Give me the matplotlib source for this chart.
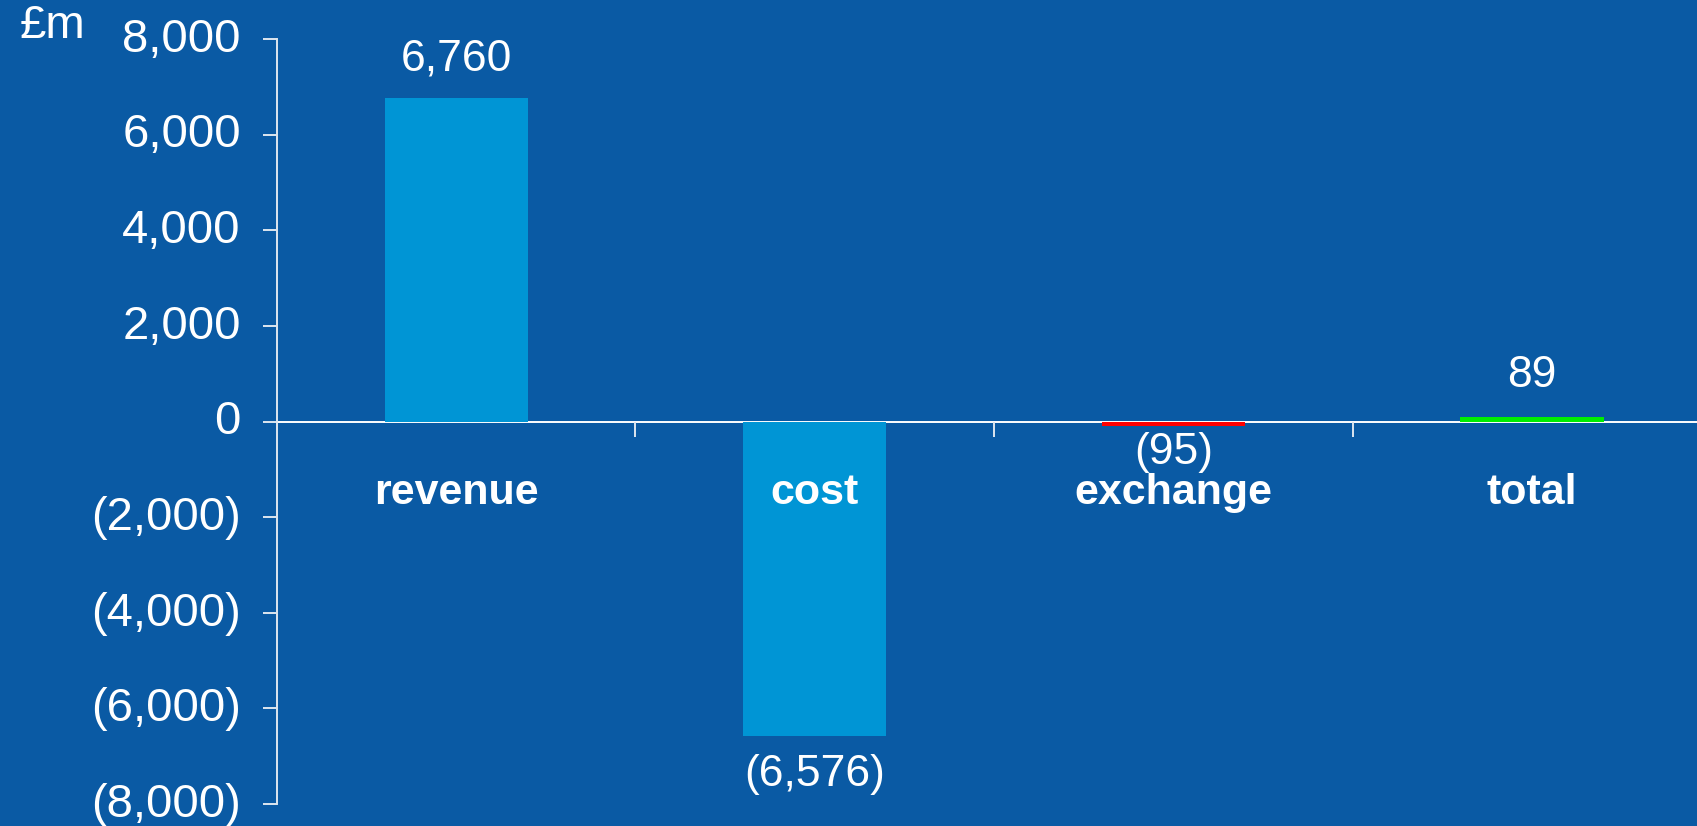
import numpy as np
import matplotlib
matplotlib.use("Agg")
import matplotlib.pyplot as plt
from matplotlib.ticker import FuncFormatter
from matplotlib.transforms import ScaledTranslation

# data
categories = ["revenue", "cost", "exchange", "total"]
values = [6760, -6576, -95, 89]
bar_colors = ["#0095d5", "#0095d5", "#ff0000", "#00ee00"]
label_offsets = [28, -28, -19, 30]   # points, from bar end
yticks = [-8000, -6000, -4000, -2000, 0, 2000, 4000, 6000, 8000]

bg = "#0a5aa4"
fg = "white"
plt.rcParams['font.family'] = ['Liberation Sans', 'DejaVu Sans']

fig = plt.figure(figsize=(16.97, 8.26), dpi=100, facecolor=bg)
ax = fig.add_axes([0.1632, 0.0266, 0.8451, 0.9262], facecolor=bg)

x = np.arange(len(categories))
ax.bar(x, values, width=0.40, color=bar_colors, zorder=1)

ax.set_xlim(-0.5, len(categories) - 0.5)
ax.set_ylim(-8000, 8000)

# spines
for s in ["top", "right"]:
    ax.spines[s].set_visible(False)
ax.spines["bottom"].set_position(("data", 0))
ax.spines["bottom"].set_color(fg)
ax.spines["bottom"].set_linewidth(1.4)
ax.spines["bottom"].set_zorder(0.5)
ax.spines["left"].set_color("#dde6f0")
ax.spines["left"].set_linewidth(1.4)

# y ticks
ax.set_yticks(yticks)
ax.yaxis.set_major_formatter(FuncFormatter(
    lambda v, p: f"{v:,.0f}" if v >= 0 else f"({-v:,.0f})"))
ax.tick_params(axis="y", colors="#dde6f0", length=10, width=1.4, pad=16,
               labelsize=34, labelcolor=fg)
shift = ScaledTranslation(0, 3 / 72, fig.dpi_scale_trans)
for lab in ax.get_yticklabels():
    lab.set_transform(lab.get_transform() + shift)

# x ticks at category boundaries
ax.set_xticks(x[:-1] + 0.5)
ax.set_xticklabels([])
ax.tick_params(axis="x", colors="#dde6f0", length=11, width=1.4, direction="out")

# category labels
for xi, name in zip(x, categories):
    ax.text(xi, -1500, name, ha="center", va="center", color=fg,
            fontsize=31, fontweight="bold")

# value labels
for xi, v, off in zip(x, values, label_offsets):
    txt = f"{v:,}" if v >= 0 else f"({-v:,})"
    ax.annotate(txt, (xi, v), xytext=(0, off), textcoords="offset points",
                ha="center", va="center", color=fg, fontsize=32)

fig.text(0.031, 0.968, "£m", ha="center", va="center", color=fg, fontsize=34)

fig.savefig("out.png", dpi=100, facecolor=bg)
